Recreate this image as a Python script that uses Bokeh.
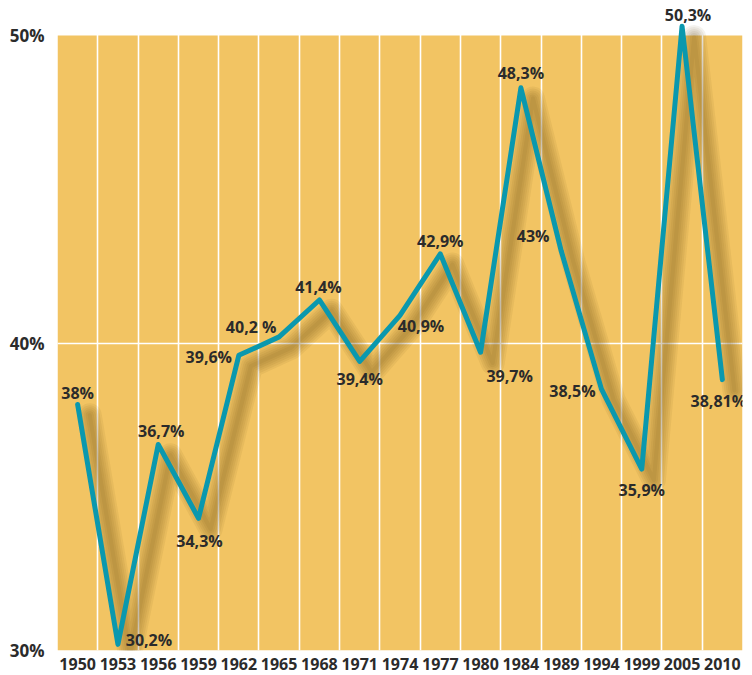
import numpy as np
from bokeh.plotting import figure
from bokeh.models import Range1d, FixedTicker, ColumnDataSource, BoxAnnotation
from bokeh.core.properties import value
from bokeh.embed import file_html
from bokeh.resources import INLINE

years = ["1950", "1953", "1956", "1959", "1962", "1965", "1968", "1971", "1974",
         "1977", "1980", "1984", "1989", "1994", "1999", "2005", "2010"]
shares = [38, 30.2, 36.7, 34.3, 39.6, 40.2, 41.4, 39.4, 40.9,
          42.9, 39.7, 48.3, 43, 38.5, 35.9, 50.3, 38.81]
share_labels = ["38%", "30,2%", "36,7%", "34,3%", "39,6%", "40,2 %", "41,4%", "39,4%", "40,9%",
                "42,9%", "39,7%", "48,3%", "43%", "38,5%", "35,9%", "50,3%", "38,81%"]
y_ticks = [30, 40, 50]
y_tick_labels = ["30%", "40%", "50%"]

# label placement (screen pixels, +dy = down), style only
label_dx = [0, 31, 3, 1, -30, -28, -1, 0, 21, 0, 29, 0, -28, -29, 0, 6, -4]
label_dy = [-12, -4, -13, 23, 2, -10, -13, 18, 11, -13, 24, -15, -15, 2, 21, -11, 21]

GOLD = "#F2C463"
TEAL = "#0A98AE"
TXT = "#2B2B2B"
FONT = "Open Sans"

n = len(years)
xs = np.arange(n)

p = figure(width=752, height=675, output_backend="svg", toolbar_location=None,
           x_range=Range1d(-0.5, n - 0.5), y_range=Range1d(30, 51.14),
           min_border_left=57, min_border_right=10, min_border_top=0, min_border_bottom=25)
p.background_fill_color = "white"
p.border_fill_color = "white"
p.outline_line_color = None

p.add_layout(BoxAnnotation(bottom=30, top=50, fill_color=GOLD, fill_alpha=1,
                           line_color=None, level="image"))

p.xgrid.ticker = FixedTicker(ticks=list(xs[:-1] + 0.5))
p.xgrid.grid_line_color = "white"
p.xgrid.grid_line_width = 1.6
p.ygrid.ticker = FixedTicker(ticks=[40])
p.ygrid.grid_line_color = "white"
p.ygrid.grid_line_width = 1.6

p.xaxis.ticker = FixedTicker(ticks=list(xs))
p.xaxis.major_label_overrides = {int(i): y for i, y in zip(xs, years)}
p.yaxis.ticker = FixedTicker(ticks=y_ticks)
p.yaxis.major_label_overrides = {t: l for t, l in zip(y_ticks, y_tick_labels)}
for ax in (p.xaxis[0], p.yaxis[0]):
    ax.axis_line_color = None
    ax.major_tick_line_color = None
    ax.minor_tick_line_color = None
    ax.major_tick_out = 0
    ax.major_tick_in = 0
    ax.minor_tick_out = 0
    ax.major_label_text_font = FONT
    ax.major_label_text_font_style = "bold"
    ax.major_label_text_color = TXT
p.xaxis.major_label_text_font_size = "16px"
p.yaxis.major_label_text_font_size = "17px"
p.xaxis.major_label_standoff = 7
p.yaxis.major_label_standoff = 13

# soft drop shadow
sx = xs + 0.3
sy = np.array(shares) - 0.35
for k in range(6):
    p.line(sx, sy, line_color="#5E4010", line_alpha=0.07, line_width=4 + 4 * k,
           line_join="round", line_cap="round")

p.line(xs, shares, line_color=TEAL, line_width=5, line_join="round", line_cap="round")

src = ColumnDataSource(dict(x=xs, y=shares, t=share_labels, dx=label_dx, dy=label_dy))
p.text(x="x", y="y", text="t", x_offset="dx", y_offset="dy", source=src,
       text_font=value(FONT), text_font_style="bold", text_font_size="16px",
       text_color=TXT, text_align="center", text_baseline="middle")

open("out.html", "w").write(file_html(p, INLINE))
